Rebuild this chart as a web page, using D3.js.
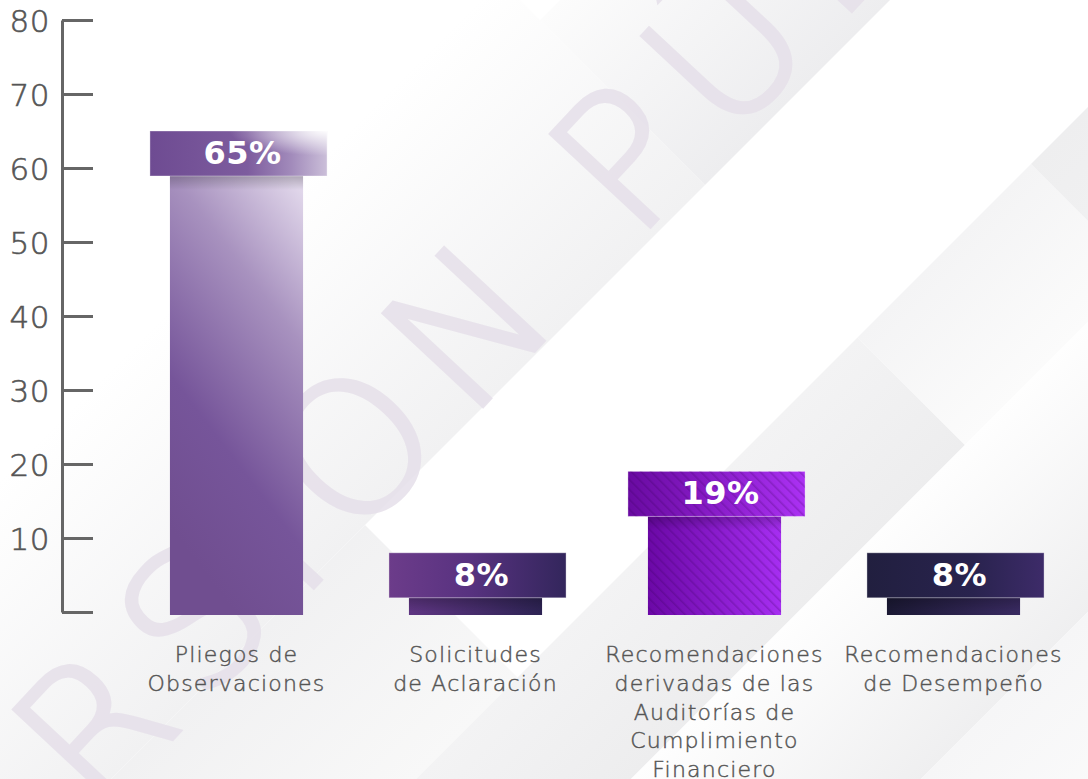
<!DOCTYPE html>
<html>
<head>
<meta charset="utf-8">
<script src="https://cdn.jsdelivr.net/npm/d3@7"></script>
<style>
  html, body { margin: 0; padding: 0; background: #fff; overflow: hidden; }
</style>
</head>
<body>
<div id="vis"></div>
<script>
// --- data ---
const categories = [
  "Pliegos de Observaciones",
  "Solicitudes de Aclaración",
  "Recomendaciones derivadas de las Auditorías de Cumplimiento Financiero",
  "Recomendaciones de Desempeño"
];
const categoryLines = [
  ["Pliegos de", "Observaciones"],
  ["Solicitudes", "de Aclaración"],
  ["Recomendaciones", "derivadas de las", "Auditorías de", "Cumplimiento", "Financiero"],
  ["Recomendaciones", "de Desempeño"]
];
const values = [65, 8, 19, 8];
const yTicks = [0, 10, 20, 30, 40, 50, 60, 70, 80];
const watermark = "VERSIÓN PÚBLICA";

// --- styles ---
const capStops = [
  [[0, "#6e4b92"], [0.55, "#7d5c9e"], [0.8, "#a28bbb"], [1, "#cbbfd9"]],
  [[0, "#6c3c8a"], [0.45, "#583280"], [1, "#33265c"]],
  [[0, "#690aa1"], [1, "#ab31f3"]],
  [[0, "#211f3f"], [0.6, "#29234e"], [1, "#3d2b69"]]
];
const bodyStops = [
  null,
  [[0, "#5e3582"], [1, "#2d2353"]],
  [[0, "#6b08a6"], [1, "#a62ef1"]],
  [[0, "#1b1934"], [1, "#392a61"]]
];

const W = 1088, H = 779;
const font = "'DejaVu Sans', 'Noto Sans', sans-serif";

const svg = d3.select("#vis").append("svg")
  .attr("width", W).attr("height", H);
const defs = svg.append("defs");

const x = d3.scaleBand().domain(categories)
  .range([117, 1073]).paddingInner(0.443).paddingOuter(0.2215);
const y = d3.scaleLinear().domain([0, 80]).range([612, 20]);

// --- background ribbons (s = x+y, d = x-y) ---
const cells = [
  {s0: 480, s1: 890, d0: -1200, d1: 520, c0: "#ffffff", c1: "#f1f1f2"},
  {s0: 560, s1: 890, d0: 520, d1: 1200, c0: "#fcfcfc", c1: "#ededef"},
  {s0: 890, s1: 1195, d0: -1200, d1: -160, c0: "#f1f1f2", c1: "#f8f8f8"},
  {s0: 1195, s1: 1410, d0: -1200, d1: 520, c0: "#f3f3f4", c1: "#ededee"},
  {s0: 1195, s1: 1410, d0: 520, d1: 867, c0: "#f4f4f5", c1: "#fbfbfb"},
  {s0: 1195, s1: 1410, d0: 867, d1: 1200, c0: "#eeeeef", c1: "#f2f2f3"},
  {s0: 1410, s1: 1700, d0: -1200, d1: 1200, c0: "#fefefe", c1: "#efeff0"},
  {s0: 1700, s1: 2000, d0: -1200, d1: 1200, c0: "#f6f6f7", c1: "#fcfcfc"}
];
svg.append("rect").attr("width", W).attr("height", H).attr("fill", "#fff");
const bg = svg.append("g");
cells.forEach((c, i) => {
  const g = defs.append("linearGradient").attr("id", "bg" + i)
    .attr("gradientUnits", "userSpaceOnUse")
    .attr("x1", c.s0 / 2).attr("y1", c.s0 / 2)
    .attr("x2", c.s1 / 2).attr("y2", c.s1 / 2);
  g.append("stop").attr("offset", 0).attr("stop-color", c.c0);
  g.append("stop").attr("offset", 1).attr("stop-color", c.c1);
  const pt = (s, d) => [(s + d) / 2, (s - d) / 2];
  const pts = [pt(c.s0, c.d0), pt(c.s0, c.d1), pt(c.s1, c.d1), pt(c.s1, c.d0)];
  bg.append("path").attr("d", "M" + pts.join("L") + "Z").attr("fill", "url(#bg" + i + ")");
});

// --- watermark ---
const wm = svg.append("g").attr("transform", "translate(98,818) rotate(-47)");
const wt = wm.append("text")
  .attr("font-family", font)
  .attr("font-size", 185)
  .attr("font-weight", 200)
  .style("letter-spacing", "24px")
  .attr("fill", "#e6e0ea")
  .attr("stroke", "#e6e0ea")
  .attr("stroke-width", 5)
  .attr("opacity", 0.85)
  .text(watermark);
wt.attr("x", -wt.node().getStartPositionOfChar(2).x);

// --- axis ---
const axis = svg.append("g")
  .attr("transform", "translate(62,0)")
  .call(d3.axisLeft(y).tickValues(yTicks)
    .tickSizeInner(-31).tickSizeOuter(0).tickPadding(12)
    .tickFormat(d => d === 0 ? "" : d));
axis.select(".domain").attr("stroke", "#666").attr("stroke-width", 3);
axis.selectAll(".tick line").attr("stroke", "#666").attr("stroke-width", 3);
axis.selectAll(".tick text")
  .attr("fill", "#555")
  .attr("stroke", "#555")
  .attr("stroke-width", 0.6)
  .style("font-family", font)
  .style("font-weight", 200)
  .style("font-size", "31px")
  .style("letter-spacing", "0.5px")
  .attr("dy", "0.36em");

// --- gradients for bars ---
function linGrad(id, stops, x1, y1, x2, y2) {
  const g = defs.append("linearGradient").attr("id", id)
    .attr("x1", x1).attr("y1", y1).attr("x2", x2).attr("y2", y2);
  stops.forEach(s => g.append("stop").attr("offset", s[0]).attr("stop-color", s[1]));
}
capStops.forEach((s, i) => linGrad("cap" + i, s, 0, 0, 1, 0));
bodyStops.forEach((s, i) => { if (s) linGrad("body" + i, s, 0, 0, 1, 0); });
linGrad("body0", [[0, "#704e90"], [0.3, "#76559a"], [0.7, "#a892bf"], [1, "#e0d6ea"]], 0.5, 1, 0.9, 0);
linGrad("shade", [[0, "rgba(0,0,0,0.22)"], [1, "rgba(0,0,0,0)"]], 0, 0, 0, 1);

const glow = defs.append("radialGradient").attr("id", "glow")
  .attr("cx", 1).attr("cy", 0).attr("r", 0.55).attr("fx", 1).attr("fy", 0);
glow.append("stop").attr("offset", 0).attr("stop-color", "#fff").attr("stop-opacity", 0.95);
glow.append("stop").attr("offset", 1).attr("stop-color", "#fff").attr("stop-opacity", 0);

const stripes = defs.append("pattern").attr("id", "stripes")
  .attr("patternUnits", "userSpaceOnUse").attr("width", 7).attr("height", 7)
  .attr("patternTransform", "rotate(-45)");
stripes.append("rect").attr("width", 1.6).attr("height", 7).attr("fill", "rgba(50,0,80,0.22)");

// --- bars ---
const capH = 45, capL = 20, capR = 24;
const bars = svg.append("g").selectAll("g").data(values).join("g");
const bodyH = d => y(0) + 3 - y(d) - capH;

bars.append("rect")
  .attr("x", (d, i) => x(categories[i]))
  .attr("y", d => y(d) + capH)
  .attr("width", x.bandwidth())
  .attr("height", bodyH)
  .attr("fill", (d, i) => "url(#body" + i + ")");

bars.filter((d, i) => i === 2).append("rect")
  .attr("x", x(categories[2]))
  .attr("y", d => y(d) + capH)
  .attr("width", x.bandwidth())
  .attr("height", bodyH)
  .attr("fill", "url(#stripes)");

bars.append("rect")
  .attr("x", (d, i) => x(categories[i]))
  .attr("y", d => y(d) + capH)
  .attr("width", x.bandwidth())
  .attr("height", d => Math.min(14, bodyH(d)))
  .attr("fill", "url(#shade)");

bars.append("rect")
  .attr("x", (d, i) => x(categories[i]) - capL)
  .attr("y", d => y(d))
  .attr("width", x.bandwidth() + capL + capR)
  .attr("height", capH)
  .attr("fill", (d, i) => "url(#cap" + i + ")")
  .attr("stroke", "rgba(255,255,255,0.35)")
  .attr("stroke-width", 1);

bars.filter((d, i) => i === 0).append("rect")
  .attr("x", x(categories[0]) - capL)
  .attr("y", d => y(d))
  .attr("width", x.bandwidth() + capL + capR)
  .attr("height", capH)
  .attr("fill", "url(#glow)");

bars.filter((d, i) => i === 2).append("rect")
  .attr("x", x(categories[2]) - capL)
  .attr("y", d => y(d))
  .attr("width", x.bandwidth() + capL + capR)
  .attr("height", capH)
  .attr("fill", "url(#stripes)");

bars.append("text")
  .attr("x", (d, i) => x(categories[i]) + (x.bandwidth() + capR - capL) / 2 + 4)
  .attr("y", d => y(d) + 33)
  .attr("text-anchor", "middle")
  .attr("fill", "#fff")
  .style("font-family", font)
  .style("font-weight", 700)
  .style("font-size", "32px")
  .style("letter-spacing", "0.5px")
  .text(d => d + "%");

// --- category labels ---
const labels = svg.append("g").selectAll("text").data(categoryLines).join("text")
  .attr("text-anchor", "middle")
  .attr("fill", "#555")
  .attr("stroke", "#555")
  .attr("stroke-width", 0.45)
  .style("font-family", font)
  .style("font-weight", 200)
  .style("font-size", "22px")
  .style("letter-spacing", "1.2px");
labels.each(function (lines, i) {
  d3.select(this).selectAll("tspan").data(lines).join("tspan")
    .attr("x", x(categories[i]) + x.bandwidth() / 2)
    .attr("y", (l, j) => y(0) + 50 + j * 28.75)
    .text(l => l);
});
</script>
</body>
</html>
